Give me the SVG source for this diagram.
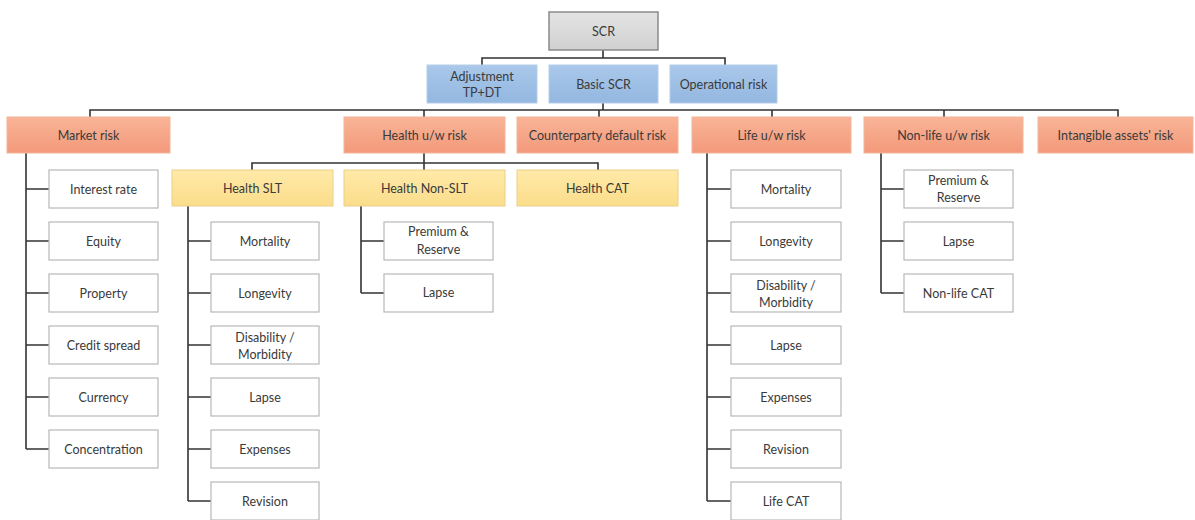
<svg xmlns="http://www.w3.org/2000/svg" width="1195" height="520" viewBox="0 0 1195 520">
<defs>
<linearGradient id="gOr" x1="0" y1="0" x2="0" y2="1"><stop offset="0" stop-color="#f9b497"/><stop offset="1" stop-color="#f3997a"/></linearGradient>
<linearGradient id="gBl" x1="0" y1="0" x2="0" y2="1"><stop offset="0" stop-color="#a9c8ea"/><stop offset="1" stop-color="#94b7e0"/></linearGradient>
<linearGradient id="gYe" x1="0" y1="0" x2="0" y2="1"><stop offset="0" stop-color="#ffeaa8"/><stop offset="1" stop-color="#fbdd8b"/></linearGradient>
<linearGradient id="gGr" x1="0" y1="0" x2="0" y2="1"><stop offset="0" stop-color="#e4e4e4"/><stop offset="1" stop-color="#d0d0d0"/></linearGradient>
<style>
text{font-family:Lato,"Liberation Sans",sans-serif;font-size:12.5px;fill:#3a3a3a;text-anchor:middle;dominant-baseline:central}
.or{fill:url(#gOr);stroke:#f2b59c;stroke-width:1}
.bl{fill:url(#gBl);stroke:#b5cde8;stroke-width:1}
.ye{fill:url(#gYe);stroke:#e9d08a;stroke-width:1}
.gr{fill:url(#gGr);stroke:#8a8a8a;stroke-width:1.5}
.wh{fill:#ffffff;stroke:#b8b8b8;stroke-width:1.2}
.c{fill:none;stroke:#333;stroke-width:1.6}
</style>
</defs>
<rect width="1195" height="520" fill="#ffffff"/>
<g id="connectors">
<path class="c" d="M603 50V58M482 65V58H725V65"/>
<path class="c" d="M603 103V110M90 117V110H1118V117M424 110V117M599 110V117M772 110V117M944 110V117"/>
<path class="c" d="M424 153V163M252 170V163H598V170M424 163V170"/>
<path class="c" d="M26 153V449M26 189H49M26 241H49M26 293H49M26 345H49M26 397H49M26 449H49"/>
<path class="c" d="M188 206V501M188 241H211M188 293H211M188 345H211M188 397H211M188 449H211M188 501H211"/>
<path class="c" d="M361 206V293M361 241H384M361 293H384"/>
<path class="c" d="M707 153V501M707 189H731M707 241H731M707 293H731M707 345H731M707 397H731M707 449H731M707 501H731"/>
<path class="c" d="M881 153V293M881 189H904M881 241H904M881 293H904"/>
</g>
<g id="n-scr"><rect class="gr" x="549" y="12" width="109" height="38"/><text x="603.5" y="31">SCR</text></g>
<g id="n-adj"><rect class="bl" x="427" y="65" width="110" height="38"/><text x="482" y="76">Adjustment</text><text x="482" y="92">TP+DT</text></g>
<g id="n-bscr"><rect class="bl" x="549" y="65" width="109" height="38"/><text x="603.5" y="84">Basic SCR</text></g>
<g id="n-op"><rect class="bl" x="670" y="65" width="107" height="38"/><text x="723.5" y="84">Operational risk</text></g>
<g id="n-market"><rect class="or" x="7" y="117" width="163" height="36"/><text x="88.5" y="135">Market risk</text></g>
<g id="n-health"><rect class="or" x="344" y="117" width="161" height="36"/><text x="424.5" y="135">Health u/w risk</text></g>
<g id="n-cp"><rect class="or" x="517" y="117" width="161" height="36"/><text x="597.5" y="135">Counterparty default risk</text></g>
<g id="n-life"><rect class="or" x="692" y="117" width="159" height="36"/><text x="771.5" y="135">Life u/w risk</text></g>
<g id="n-nonlife"><rect class="or" x="864" y="117" width="159" height="36"/><text x="943.5" y="135">Non-life u/w risk</text></g>
<g id="n-intang"><rect class="or" x="1038" y="117" width="155" height="36"/><text x="1115.5" y="135">Intangible assets' risk</text></g>
<g id="n-hslt"><rect class="ye" x="172" y="170" width="161" height="36"/><text x="252.5" y="188">Health SLT</text></g>
<g id="n-hnslt"><rect class="ye" x="344" y="170" width="161" height="36"/><text x="424.5" y="188">Health Non-SLT</text></g>
<g id="n-hcat"><rect class="ye" x="517" y="170" width="161" height="36"/><text x="597.5" y="188">Health CAT</text></g>
<g id="n-m1"><rect class="wh" x="49" y="170" width="109" height="38"/><text x="103.5" y="189">Interest rate</text></g>
<g id="n-m2"><rect class="wh" x="49" y="222" width="109" height="38"/><text x="103.5" y="241">Equity</text></g>
<g id="n-m3"><rect class="wh" x="49" y="274" width="109" height="38"/><text x="103.5" y="293">Property</text></g>
<g id="n-m4"><rect class="wh" x="49" y="326" width="109" height="38"/><text x="103.5" y="345">Credit spread</text></g>
<g id="n-m5"><rect class="wh" x="49" y="378" width="109" height="38"/><text x="103.5" y="397">Currency</text></g>
<g id="n-m6"><rect class="wh" x="49" y="430" width="109" height="38"/><text x="103.5" y="449">Concentration</text></g>
<g id="n-s1"><rect class="wh" x="211" y="222" width="108" height="38"/><text x="265" y="241">Mortality</text></g>
<g id="n-s2"><rect class="wh" x="211" y="274" width="108" height="38"/><text x="265" y="293">Longevity</text></g>
<g id="n-s3"><rect class="wh" x="211" y="326" width="108" height="38"/><text x="265" y="337">Disability /</text><text x="265" y="354">Morbidity</text></g>
<g id="n-s4"><rect class="wh" x="211" y="378" width="108" height="38"/><text x="265" y="397">Lapse</text></g>
<g id="n-s5"><rect class="wh" x="211" y="430" width="108" height="38"/><text x="265" y="449">Expenses</text></g>
<g id="n-s6"><rect class="wh" x="211" y="482" width="108" height="38"/><text x="265" y="501">Revision</text></g>
<g id="n-ns1"><rect class="wh" x="384" y="222" width="109" height="38"/><text x="438.5" y="231">Premium &amp;</text><text x="438.5" y="249">Reserve</text></g>
<g id="n-ns2"><rect class="wh" x="384" y="274" width="109" height="38"/><text x="438.5" y="292">Lapse</text></g>
<g id="n-l1"><rect class="wh" x="731" y="170" width="110" height="38"/><text x="786" y="189">Mortality</text></g>
<g id="n-l2"><rect class="wh" x="731" y="222" width="110" height="38"/><text x="786" y="241">Longevity</text></g>
<g id="n-l3"><rect class="wh" x="731" y="274" width="110" height="38"/><text x="786" y="285">Disability /</text><text x="786" y="302">Morbidity</text></g>
<g id="n-l4"><rect class="wh" x="731" y="326" width="110" height="38"/><text x="786" y="345">Lapse</text></g>
<g id="n-l5"><rect class="wh" x="731" y="378" width="110" height="38"/><text x="786" y="397">Expenses</text></g>
<g id="n-l6"><rect class="wh" x="731" y="430" width="110" height="38"/><text x="786" y="449">Revision</text></g>
<g id="n-l7"><rect class="wh" x="731" y="482" width="110" height="38"/><text x="786" y="501">Life CAT</text></g>
<g id="n-nl1"><rect class="wh" x="904" y="170" width="109" height="38"/><text x="958.5" y="180">Premium &amp;</text><text x="958.5" y="197">Reserve</text></g>
<g id="n-nl2"><rect class="wh" x="904" y="222" width="109" height="38"/><text x="958.5" y="241">Lapse</text></g>
<g id="n-nl3"><rect class="wh" x="904" y="274" width="109" height="38"/><text x="958.5" y="293">Non-life CAT</text></g>
</svg>
